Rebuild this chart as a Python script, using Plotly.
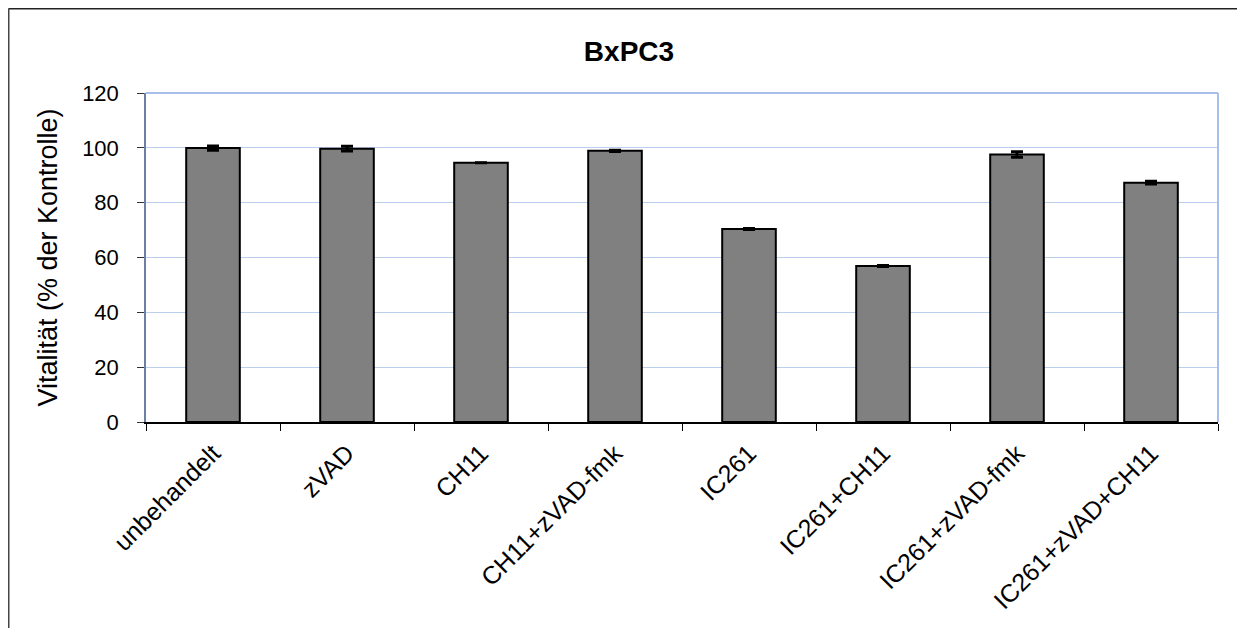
import plotly.graph_objects as go

categories = ["unbehandelt", "zVAD", "CH11", "CH11+zVAD-fmk", "IC261",
              "IC261+CH11", "IC261+zVAD-fmk", "IC261+zVAD+CH11"]
values = [99.9, 99.7, 94.6, 98.9, 70.4, 56.9, 97.6, 87.3]
errors = [0.8, 0.9, 0.0, 0.2, 0.2, 0.2, 1.0, 0.5]
y_ticks = [0, 20, 40, 60, 80, 100, 120]

FONT = "Liberation Sans, Arial, sans-serif"
GRID = "#BCCEEE"
FRAME_BLUE = "#A7BFEA"

fig = go.Figure(go.Bar(
    x=categories, y=values,
    marker=dict(color="#808080", line=dict(color="#000000", width=2)),
    error_y=dict(type="data", array=errors, color="#000000", thickness=3, width=6),
    width=0.4,
))

# plot area in figure px (page body has 8px offset)
FW, FH = 1245, 628
L, R, T, B = 138, 1210, 85, 414
W, H = R - L, B - T
def px(x):
    return (x - L) / W
def py(y):
    return (B - y) / H

fig.update_layout(
    width=FW, height=FH,
    margin=dict(l=L, r=FW - R, t=T, b=FH - B),
    paper_bgcolor="white", plot_bgcolor="white",
    showlegend=False,
    title=dict(text="<b>BxPC3</b>", xref="container", x=621 / FW, xanchor="center",
               yref="container", y=1 - 43 / FH, yanchor="middle",
               font=dict(family=FONT, size=28, color="#000000")),
    font=dict(family=FONT, color="#000000"),
    xaxis=dict(
        type="category", tickangle=-45, tickson="boundaries",
        ticks="outside", ticklen=7, tickcolor="#000000", tickwidth=1,
        showline=True, linecolor="#000000", linewidth=1.5,
        tickfont=dict(family=FONT, size=25, color="#000000"),
        ticklabelstandoff=5,
        showgrid=False, zeroline=False,
    ),
    yaxis=dict(
        range=[0, 120], tickvals=y_ticks,
        ticks="outside", ticklen=7, tickcolor="#333333",
        showline=True, linecolor="#6E7FA6", linewidth=1.5,
        showgrid=True, gridcolor=GRID, gridwidth=1,
        zeroline=False,
        ticklabelstandoff=14,
        tickfont=dict(family=FONT, size=22, color="#000000"),
        title=dict(text="Vitalität (% der Kontrolle)", standoff=17,
                   font=dict(family=FONT, size=27, color="#000000")),
    ),
    shapes=[
        # top and right plot border (light blue)
        dict(type="line", xref="paper", yref="paper", x0=0, x1=1, y0=1, y1=1,
             line=dict(color=FRAME_BLUE, width=2)),
        dict(type="line", xref="paper", yref="paper", x0=1, x1=1, y0=0, y1=1,
             line=dict(color=FRAME_BLUE, width=2)),
        # outer chart frame (top & left)
        dict(type="line", xref="paper", yref="paper", x0=px(0.5), x1=px(1300), y0=py(0.5), y1=py(0.5),
             line=dict(color="#222222", width=2)),
        dict(type="line", xref="paper", yref="paper", x0=px(0.5), x1=px(0.5), y0=py(0.5), y1=py(700),
             line=dict(color="#444444", width=2)),
    ],
)

fig.write_html("out.html")
